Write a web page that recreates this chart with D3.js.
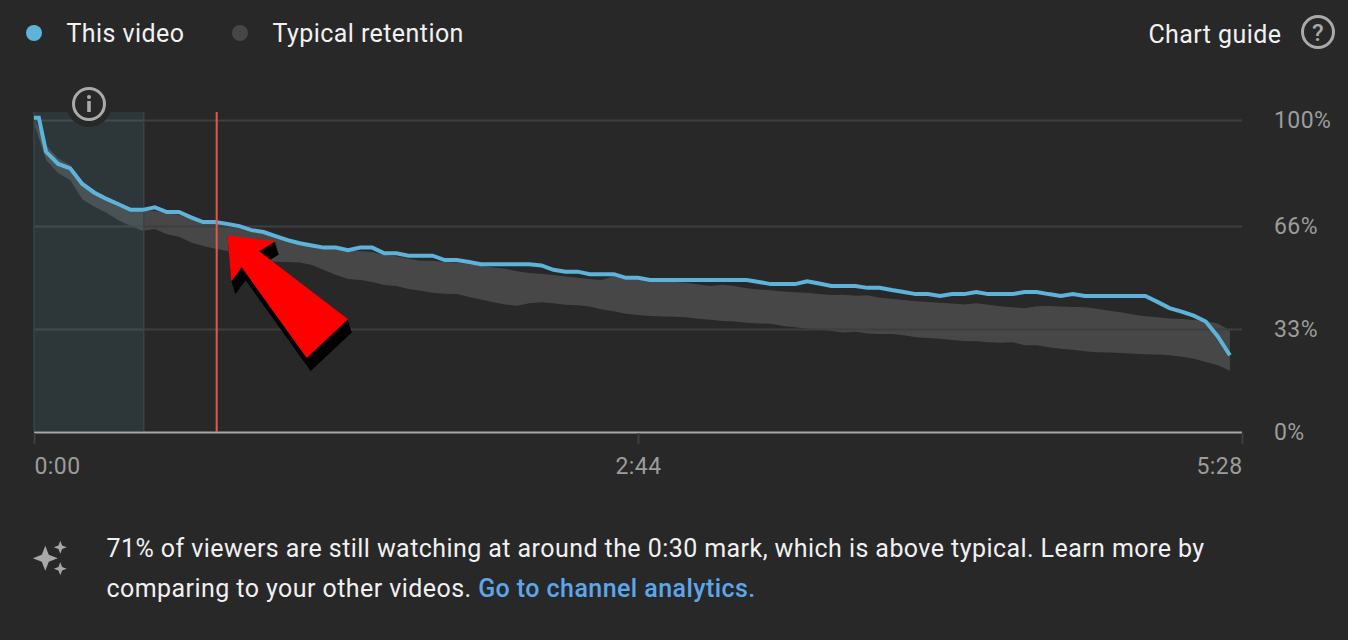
<!DOCTYPE html>
<html>
<head>
<meta charset="utf-8">
<script src="https://cdn.jsdelivr.net/npm/d3@7"></script>
<style>
  html, body { margin: 0; padding: 0; background: #282828; overflow: hidden; }
  text { font-family: Roboto, sans-serif; letter-spacing: 0.43px; }
  .domain { display: none; }
</style>
</head>
<body>
<div id="chart"></div>
<script>
// retention in %, one value per 1% of the video
const thisVideo = [100.7, 100.7, 89.8, 85.9, 84.5, 79.5, 76.7, 74.7, 73.0, 71.2, 71.2, 72.0, 70.5, 70.5, 68.8, 67.3, 67.3,
  66.7, 66.0, 64.7, 64.1, 62.8, 61.5, 60.5, 59.8, 59.1, 59.1, 58.3, 59.1, 59.1, 57.3, 57.3,
  56.5, 56.5, 56.5, 55.1, 55.1, 54.5, 53.8, 53.8, 53.8, 53.8, 53.8, 53.4, 52.0, 51.4, 51.4, 50.6, 50.6, 50.6, 49.4, 49.4,
  48.7, 48.7, 48.7, 48.7, 48.7, 48.7, 48.7, 48.7, 48.7, 48.1, 47.4, 47.4, 47.4, 48.3, 47.6, 46.8,
  46.8, 46.8, 46.2, 46.2, 45.5, 44.9, 44.2, 44.2, 43.6, 44.2, 44.2, 44.9, 44.2, 44.2, 44.2, 44.9, 44.9, 44.2, 43.6, 44.2,
  43.6, 43.6, 43.6, 43.6, 43.6, 43.6, 41.7, 39.7, 38.6, 37.3, 35.4, 30.6, 24.6];
// the curve stays flat for a moment before the first drop
const thisVideoPos = [0, 0.4].concat(d3.range(1, 100));

const typicalHigh = [100.7, 92.0, 87.7, 85.5, 80.2, 77.6, 75.4, 73.3, 71.9, 70.9, 70.9, 70.1, 69.6, 68.5, 67.1, 66.9, 66.1, 65.5, 64.2, 63.7,
  62.4, 61.2, 60.2, 59.7, 59.0, 58.7, 58.0, 58.0, 57.7, 56.7, 56.3, 55.5, 54.9, 54.9, 54.5, 54.3, 53.8, 53.3, 52.7, 52.3,
  51.5, 51.0, 50.7, 50.3, 49.8, 49.4, 49.0, 48.7, 50.0, 49.1, 49.1, 48.5, 48.4, 48.1, 47.8, 47.3, 46.8, 47.2, 46.8, 46.1,
  45.7, 45.4, 45.0, 44.8, 44.6, 44.2, 43.9, 44.0, 43.7, 43.8, 43.0, 42.7, 42.3, 41.9, 41.7, 41.4, 41.2, 40.9, 41.3, 40.8,
  40.3, 40.0, 39.7, 40.3, 40.4, 40.2, 40.1, 40.0, 39.5, 38.9, 38.4, 37.7, 37.1, 36.8, 36.4, 36.2, 35.9, 35.6, 34.8, 32.5];

const typicalLow = [98.9, 87.2, 82.9, 80.8, 74.6, 72.2, 70.3, 67.9, 66.0, 64.5, 65.1, 63.4, 62.6, 60.7, 59.6, 58.7, 58.0, 57.1, 56.1, 55.1,
  54.6, 54.5, 54.3, 53.5, 51.9, 50.3, 49.0, 48.7, 48.1, 47.1, 46.8, 45.8, 45.3, 44.6, 44.3, 44.2, 43.3, 42.5, 41.6, 40.9,
  40.5, 41.3, 41.6, 41.3, 40.8, 40.6, 40.2, 39.3, 38.7, 37.9, 37.5, 37.2, 37.0, 36.9, 36.8, 36.3, 36.0, 35.6, 35.4, 35.0,
  34.8, 34.7, 34.0, 33.6, 33.2, 33.0, 32.4, 31.9, 32.1, 31.6, 31.4, 31.4, 31.0, 30.4, 30.1, 29.9, 29.5, 29.2, 29.1, 28.8,
  28.6, 28.8, 27.8, 27.8, 27.2, 26.7, 26.4, 25.9, 25.6, 25.5, 25.3, 25.1, 24.9, 24.8, 24.6, 24.1, 23.5, 22.4, 21.4, 19.6];

const yTicks = [100, 66, 33, 0];
const xTicks = [0, 164, 328];        // seconds
const xTickLabels = ["0:00", "2:44", "5:28"];
const introEnd = 29.8;               // seconds, shaded intro
const cursorTime = 49.6;             // seconds, red marker
const arrowShape = [[227.3, 235.3], [275.3, 241.3], [259.3, 251.3], [348, 319.3], [306.7, 358], [241.7, 267.3], [231.3, 281.3]];

const w = 1348, h = 640;
const svg = d3.select("#chart").append("svg").attr("width", w).attr("height", h).style("display", "block");

const xTime = d3.scaleLinear().domain([0, 328]).range([34, 1242]);
const xPct = d3.scaleLinear().domain([0, 100]).range([34, 1242]);
const y = d3.scaleLinear().domain([0, 100]).range([432, 120]);

// band
const band = d3.area().x((d, i) => xPct(i)).y0((d, i) => y(typicalLow[i])).y1(d => y(d));
svg.append("path").attr("d", band(typicalHigh)).attr("fill", "#474747");

// gridlines + y labels
const yAxis = d3.axisRight(y).tickValues(yTicks).tickFormat(d => d + "%").tickSize(-1208).tickPadding(32);
const gy = svg.append("g").attr("transform", "translate(1242,0)").call(yAxis);
gy.selectAll(".tick line").attr("stroke", d => d === 0 ? "#a8a8a8" : "#3e3e3e").attr("stroke-width", 2);
gy.selectAll(".tick text").attr("fill", "#9c9c9c").style("font-size", "23px").style("font-family", "Roboto");

// x axis
const xAxis = d3.axisBottom(xTime).tickValues(xTicks).tickFormat((d, i) => xTickLabels[i]).tickSize(12).tickPadding(14);
const gx = svg.append("g").attr("transform", "translate(0,432)").call(xAxis);
gx.selectAll(".tick line").attr("stroke", "#3e3e3e").attr("stroke-width", 2).attr("y1", 1).attr("y2", 12);
gx.selectAll(".tick text").attr("fill", "#9c9c9c").style("font-size", "23px").style("font-family", "Roboto")
  .attr("text-anchor", (d, i) => i === 0 ? "start" : i === 2 ? "end" : "middle");

// shaded intro
svg.append("rect").attr("x", xTime(0)).attr("y", 112).attr("width", xTime(introEnd) - xTime(0)).attr("height", 319)
  .attr("fill", "rgb(100,200,230)").attr("fill-opacity", 0.1);
svg.selectAll("line.intro").data([0, introEnd]).enter().append("line").attr("class", "intro")
  .attr("x1", d => xTime(d)).attr("x2", d => xTime(d)).attr("y1", 112).attr("y2", 431)
  .attr("stroke", "#36444c").attr("stroke-width", 1.5);

// this video
const line = d3.line().x((d, i) => xPct(thisVideoPos[i])).y(d => y(d));
svg.append("path").attr("d", line(thisVideo)).attr("fill", "none").attr("stroke", "#5db3da").attr("stroke-width", 4);

// red marker
svg.append("line").attr("x1", xTime(cursorTime)).attr("x2", xTime(cursorTime)).attr("y1", 112).attr("y2", 432)
  .attr("stroke", "#e2584d").attr("stroke-width", 2);

// pasted-on arrow, extruded black shadow then red
const arrowPts = arrowShape.map(p => p.join(",")).join(" ");
svg.selectAll("polygon.shadow").data(d3.range(1, 14)).enter().append("polygon").attr("class", "shadow")
  .attr("points", arrowPts).attr("fill", "#000")
  .attr("transform", d => `translate(${d * 4 / 13},${d})`);
svg.append("polygon").attr("points", arrowPts).attr("fill", "#ff0000");

// info icon
const info = svg.append("g").attr("transform", "translate(89,104)");
info.append("circle").attr("r", 23).attr("fill", "#282828");
info.append("circle").attr("r", 15.5).attr("fill", "none").attr("stroke", "#aaa").attr("stroke-width", 3);
info.append("circle").attr("cy", -7).attr("r", 2).attr("fill", "#aaa");
info.append("rect").attr("x", -1.8).attr("y", -3).attr("width", 3.6).attr("height", 11).attr("fill", "#aaa");

// legend
const legendLabels = ["This video", "Typical retention"];
const legendColors = ["#5db3da", "#474747"];
const legendDotX = [34, 240];
const legendTextX = [66.5, 272.5];
const legend = svg.selectAll("g.legend").data(legendLabels).enter().append("g").attr("class", "legend");
legend.append("circle").attr("cx", (d, i) => legendDotX[i]).attr("cy", 33).attr("r", 8).attr("fill", (d, i) => legendColors[i]);
legend.append("text").attr("x", (d, i) => legendTextX[i]).attr("y", 42).attr("fill", "#f1f1f1").style("font-size", "25px").text(d => d);

// chart guide
svg.append("text").attr("x", 1281.5).attr("y", 43).attr("text-anchor", "end").attr("fill", "#f1f1f1").style("font-size", "25px").text("Chart guide");
const guide = svg.append("g").attr("transform", "translate(1318,32)");
guide.append("circle").attr("r", 15.5).attr("fill", "none").attr("stroke", "#aaa").attr("stroke-width", 3);
guide.append("text").attr("y", 9).attr("text-anchor", "middle").attr("fill", "#aaa").style("font-size", "24px").style("font-weight", 500).text("?");

// sparkles
const sparkle = d3.symbol().type({
  draw(ctx, size) {
    const r = Math.sqrt(size), k = r * 0.28;
    ctx.moveTo(0, -r);
    ctx.lineTo(k, -k); ctx.lineTo(r, 0); ctx.lineTo(k, k);
    ctx.lineTo(0, r); ctx.lineTo(-k, k); ctx.lineTo(-r, 0); ctx.lineTo(-k, -k);
    ctx.closePath();
  }
});
const sparkleX = [45.3, 60.3, 60.3], sparkleY = [558.3, 547.3, 568.7], sparkleR = [12.5, 6.5, 6.5];
svg.selectAll("path.sparkle").data(sparkleR).enter().append("path").attr("class", "sparkle")
  .attr("d", d => sparkle.size(d * d)())
  .attr("transform", (d, i) => `translate(${sparkleX[i]},${sparkleY[i]})`)
  .attr("fill", "#a8a8a8");

// footer
svg.append("text").attr("x", 106.5).attr("y", 557).attr("fill", "#f1f1f1").style("font-size", "25px")
  .text("71% of viewers are still watching at around the 0:30 mark, which is above typical. Learn more by");
const foot = svg.append("text").attr("x", 106.5).attr("y", 597).attr("fill", "#f1f1f1").style("font-size", "25px");
foot.append("tspan").text("comparing to your other videos. ");
foot.append("tspan").attr("fill", "#5ea6ec").style("font-weight", 500).text("Go to channel analytics.");
</script>
</body>
</html>
